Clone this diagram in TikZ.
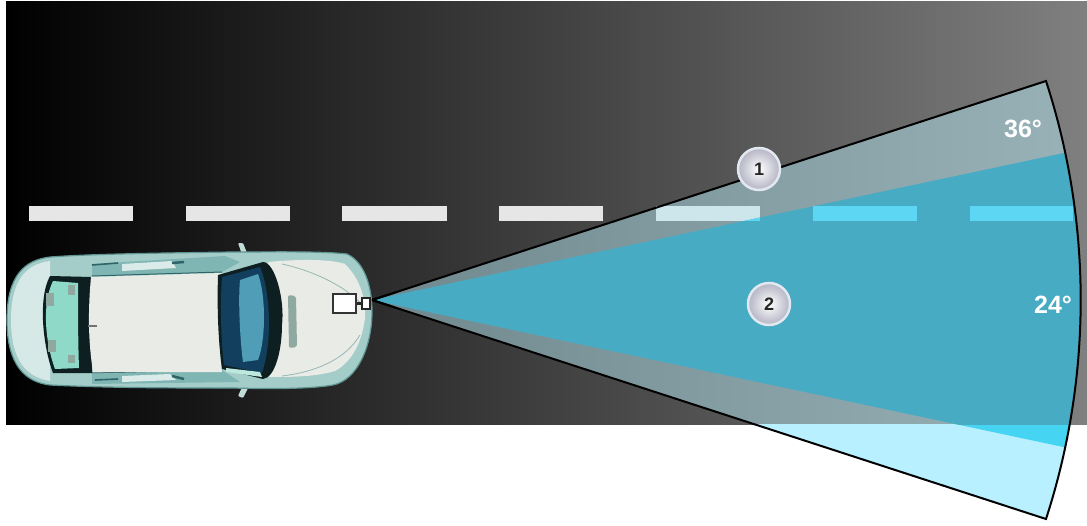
\documentclass[tikz,border=0pt]{standalone}
\usepackage{fontspec}
\setmainfont{Liberation Sans}
\definecolor{outerroad}{HTML}{B4E6F2}
\definecolor{outerwhite}{HTML}{B8F0FF}
\definecolor{innerroad}{HTML}{48ABC4}
\definecolor{innerwhite}{HTML}{45D5F2}
\definecolor{dashwhite}{HTML}{E6E6E6}
\definecolor{dashin}{HTML}{5CD6F2}
\definecolor{carbody}{HTML}{A4CDC9}
\definecolor{caredge}{HTML}{5E9492}
\definecolor{carpale}{HTML}{E9ECE6}
\definecolor{carframe}{HTML}{0E1F22}
\definecolor{rearglass}{HTML}{8FD9C8}
\definecolor{frontglass}{HTML}{4F9DB6}
\definecolor{frontdark}{HTML}{123F5E}
\definecolor{sidedark}{HTML}{2F6468}
\definecolor{sidemid}{HTML}{7FB5B2}
\definecolor{vent}{HTML}{8FA8A0}
\definecolor{badgeedge}{HTML}{E2E8F0}
\definecolor{badgeout}{HTML}{B4B4C4}
\newcommand{\outerwedge}{(372,300) -- (1046,81) arc[start angle=18,end angle=-18,radius=708.7pt] -- cycle}
\newcommand{\innerwedge}{(372,300) -- (1065.2,152.7) arc[start angle=12,end angle=-12,radius=708.7pt] -- cycle}
\newcommand{\roadarea}{(6,1) rectangle (1087,424)}
\newcommand{\dashes}[1]{\foreach \xa/\xb in {29/133,186/290,342/447,499/603,656/760,813/917,970/1073}{\fill[#1] (\xa,206) rectangle (\xb,221);}}
\tikzset{
  badge/.style={circle,minimum size=42pt,inner sep=0pt,draw=badgeedge,line width=2.5pt,
    inner color=white,outer color=badgeout,font=\bfseries\fontsize{18}{18}\selectfont,text=black!85},
  anglelabel/.style={text=white,font=\bfseries\fontsize{25}{25}\selectfont,inner sep=0pt},
  camerabox/.style={draw=black!80,fill=white,line width=1.3pt,minimum width=23pt,minimum height=19pt,inner sep=0pt},
  lens/.style={draw=black!85,fill=white,line width=1.4pt,minimum width=8pt,minimum height=11pt,inner sep=0pt}
}
\begin{document}
\begin{tikzpicture}[x=1pt,y=-1pt]
\path[use as bounding box] (0,0) rectangle (1087,525);
\fill[white] (0,0) rectangle (1087,525);
% road
\fill[left color=black,right color=black!50] \roadarea;
\dashes{dashwhite}
% outer wedge
\begin{scope}
  \clip \roadarea;
  \fill[outerroad,opacity=.5] \outerwedge;
\end{scope}
\begin{scope}
  \clip (0,424) rectangle (1087,525);
  \fill[outerwhite] \outerwedge;
  \fill[innerwhite] \innerwedge;
\end{scope}
% inner wedge
\begin{scope}
  \clip \roadarea;
  \fill[innerroad] \innerwedge;
  \clip \innerwedge;
  \dashes{dashin}
\end{scope}
\draw[black,line width=2pt,line join=miter] \outerwedge;
% mirrors
\fill[carbody!70!white,rounded corners=1pt] (238,243) -- (243,243) -- (249,258) -- (244,260) -- cycle;
\fill[carbody!70!white,rounded corners=1pt] (244,383) -- (250,384) -- (243,398) -- (238,396) -- cycle;
% car body
\fill[carbody,draw=caredge,line width=1.2pt] (372,312) .. controls (372,285) and (364,262) .. (347,254)
  .. controls (320,251) and (270,252) .. (233,252)
  .. controls (160,253) and (90,254) .. (50,257)
  .. controls (25,260) and (7,275) .. (7,320)
  .. controls (7,365) and (25,382) .. (50,385)
  .. controls (110,388) and (180,388) .. (233,388)
  .. controls (270,389) and (310,389) .. (333,385)
  .. controls (358,380) and (372,345) .. (372,312) -- cycle;
% hood
\fill[carpale] (268,262) .. controls (300,259) and (330,259) .. (345,264)
  .. controls (358,277) and (366,295) .. (365,318)
  .. controls (362,342) and (352,362) .. (335,371)
  .. controls (315,377) and (290,377) .. (268,377) -- cycle;
\draw[caredge!60!carpale,line width=.8pt] (282,264) .. controls (310,270) and (345,285) .. (362,305);
\draw[caredge!60!carpale,line width=.8pt] (282,376) .. controls (315,372) and (345,360) .. (360,335);
% tail
\fill[carbody!45!white] (50,261) .. controls (26,264) and (11,280) .. (11,320)
  .. controls (11,360) and (26,377) .. (50,381) -- cycle;
% side strips
\fill[sidemid] (92,264) -- (225,256) -- (240,262) -- (222,272) -- (92,276) -- cycle;
\fill[carbody!40!white] (122,264) -- (172,261) -- (176,268) -- (122,271) -- cycle;
\draw[sidedark,line width=1.6pt] (92,265) -- (118,263);
\draw[sidedark,line width=2.5pt] (172,263) -- (184,262);
\draw[sidedark,line width=1pt] (92,276) -- (222,272);
\fill[sidemid] (92,374) -- (222,370) -- (240,382) -- (92,384) -- cycle;
\fill[carbody!40!white] (122,376) -- (170,374) -- (176,380) -- (122,382) -- cycle;
\draw[sidedark,line width=1.6pt] (95,380) -- (118,379);
\draw[sidedark,line width=2.5pt] (172,376) -- (184,379);
\draw[sidedark,line width=1pt] (92,373) -- (222,370);
% rear window
\fill[carframe] (50,276) -- (92,277) -- (92,373) -- (53,373)
  .. controls (44,350) and (37,300) .. (50,276) -- cycle;
\fill[rearglass] (53,281) -- (78,283) .. controls (78,310) and (78,340) .. (79,368) -- (55,369)
  .. controls (46,345) and (41,305) .. (53,281) -- cycle;
\fill[vent] (46,293) rectangle (54,306);
\fill[vent] (48,340) rectangle (56,352);
\fill[vent] (68,285) rectangle (75,295);
\fill[vent] (68,355) rectangle (75,363);
% roof
\fill[carpale] (91,277) -- (222,273) .. controls (218,310) and (218,340) .. (222,372) -- (93,372)
  .. controls (88,340) and (88,310) .. (91,277) -- cycle;
\fill[black!55] (88,325) rectangle (97,326.5);
% windscreen
\fill[carframe] (218,275) -- (263,262) .. controls (275,262) and (285,300) .. (282,325)
  .. controls (282,350) and (275,378) .. (263,379) -- (222,369)
  .. controls (218,340) and (217,305) .. (218,275) -- cycle;
\fill[frontdark] (222,277) -- (260,267) .. controls (270,290) and (273,340) .. (262,373) -- (224,365)
  .. controls (221,340) and (220,305) .. (222,277) -- cycle;
\fill[frontglass] (240,280) -- (258,274) .. controls (266,295) and (266,340) .. (258,360) -- (243,362)
  .. controls (240,340) and (238,300) .. (240,280) -- cycle;
\fill[rearglass!60!white] (226,368) -- (260,372) -- (262,377) -- (226,372) -- cycle;
% hood vent
\fill[vent,rounded corners=2pt] (288,295) -- (296,296) -- (297,347) -- (289,348) -- cycle;
% wedge apex overdraw
\draw[black,line width=2pt] (372,300) -- (395,292.5);
\draw[black,line width=2pt] (372,300) -- (395,307.5);
% camera
\node[camerabox] (cam) at (344.5,303.5) {};
\node[lens] (lensnode) at (366,303.5) {};
\draw[black!85,line width=3.5pt] (cam) -- (lensnode);
% labels
\node[badge] (one) at (759,169) {1};
\node[badge] (two) at (769,304) {2};
\node[anglelabel] (a36) at (1023,129) {36°};
\node[anglelabel] (a24) at (1053,305) {24°};
\end{tikzpicture}
\end{document}
